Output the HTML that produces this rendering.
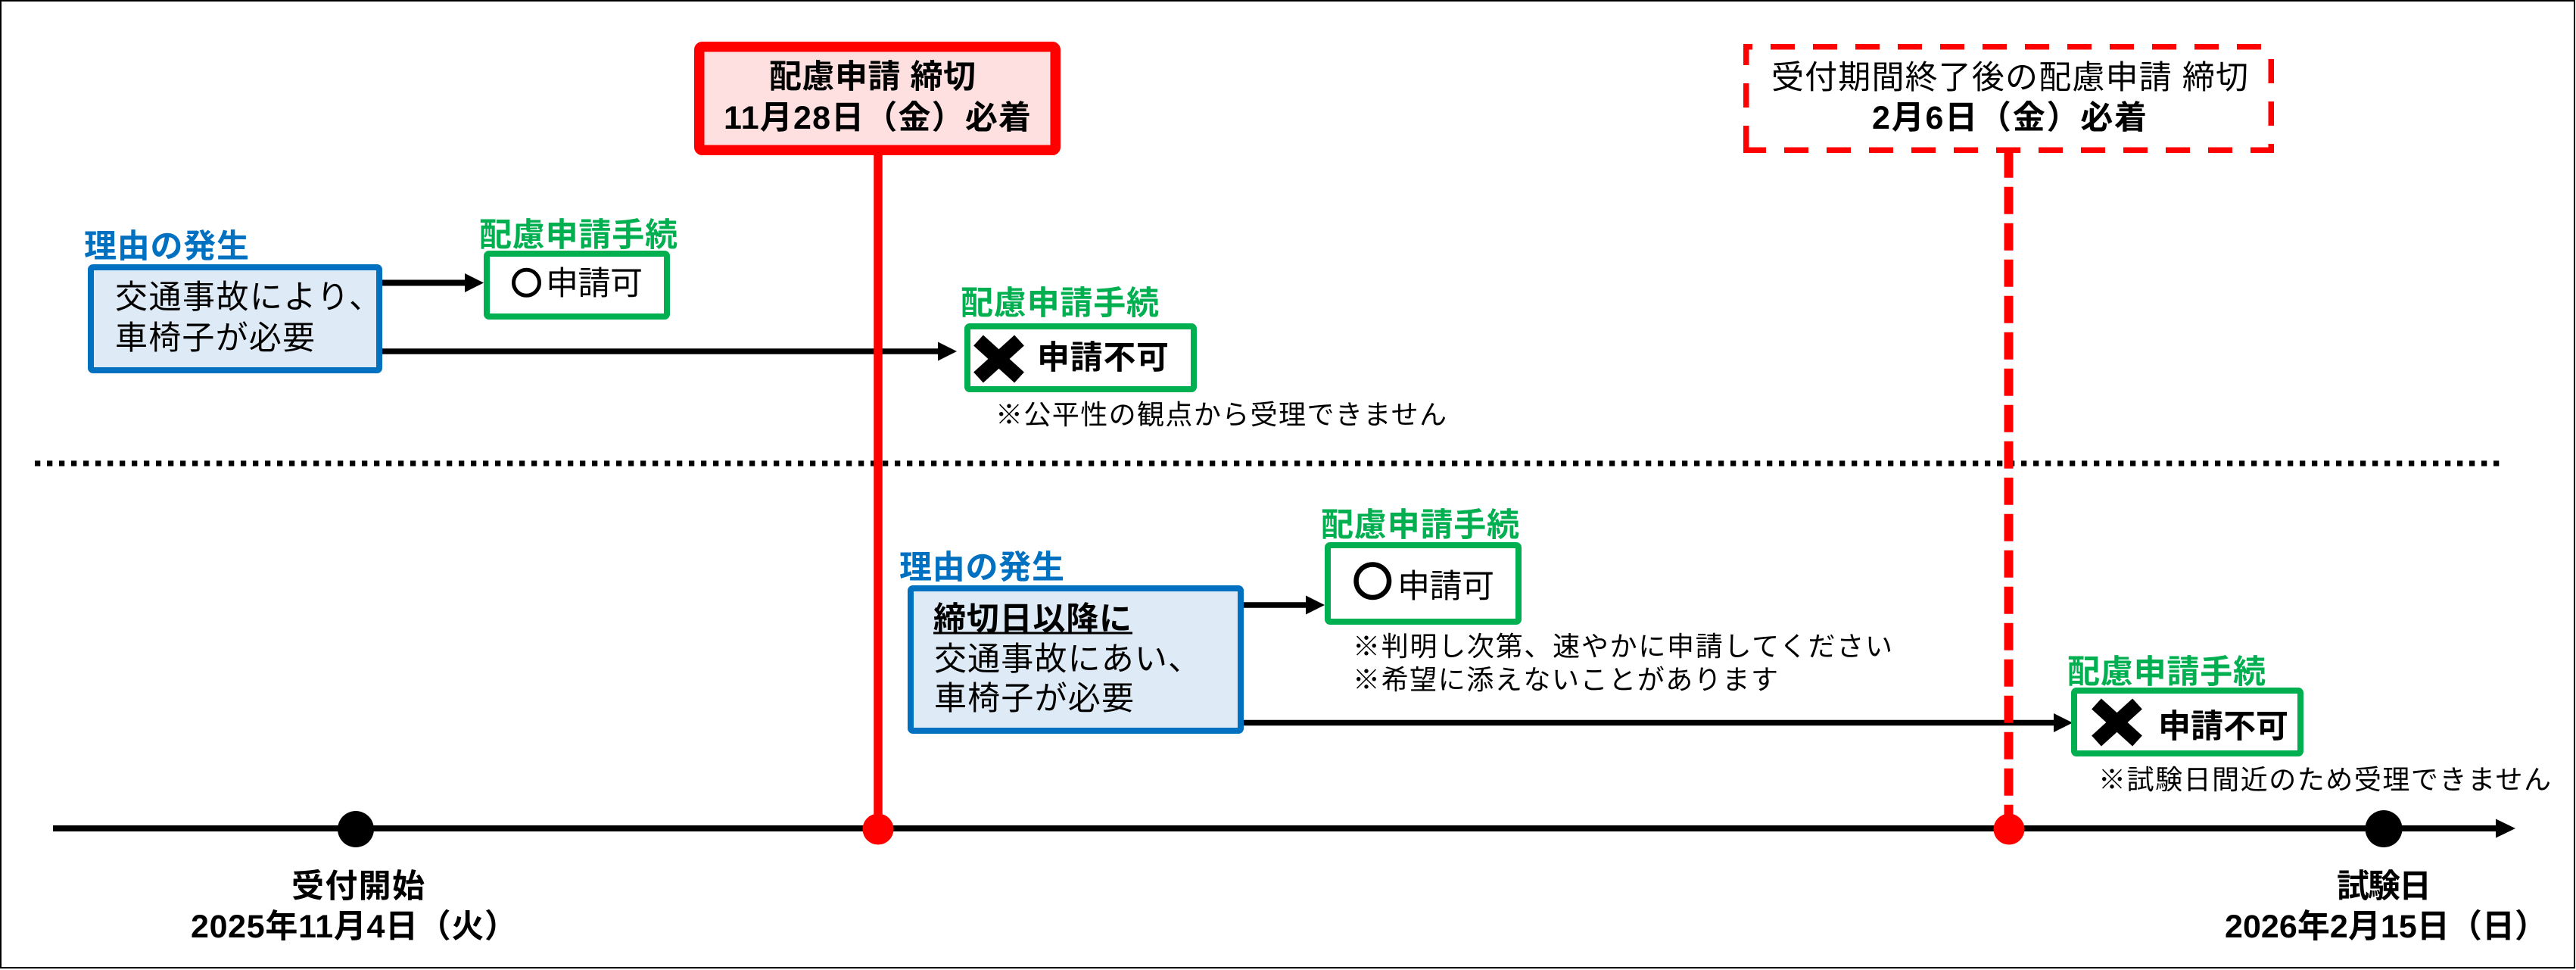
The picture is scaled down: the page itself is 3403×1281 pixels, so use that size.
<!DOCTYPE html>
<html>
<head>
<meta charset="utf-8">
<style>
html,body{margin:0;padding:0;background:#fff;}
svg{display:block;}
text{font-family:"Liberation Sans","Noto Sans CJK JP",sans-serif;}
</style>
</head>
<body>
<svg width="3403" height="1281" viewBox="0 0 3403 1281" xmlns="http://www.w3.org/2000/svg">
<rect x="0" y="0" width="3403" height="1281" fill="#ffffff"/>
<rect x="1" y="1" width="3400" height="1277" fill="none" stroke="#000" stroke-width="2"/>

<!-- dotted separator -->
<line x1="46" y1="612" x2="3302" y2="612" stroke="#000" stroke-width="7.3" stroke-dasharray="7.3 8.7"/>

<!-- timeline axis -->
<line x1="70" y1="1094" x2="3300" y2="1094" stroke="#000" stroke-width="8"/>
<polygon points="3297,1081.5 3323,1094 3297,1106.5" fill="#000"/>

<!-- arrows upper -->
<line x1="505" y1="373.5" x2="616" y2="373.5" stroke="#000" stroke-width="8"/>
<polygon points="614,361 639,373.5 614,386" fill="#000"/>
<line x1="505" y1="464" x2="1241" y2="464" stroke="#000" stroke-width="7.5"/>
<polygon points="1239,451.5 1264,464 1239,476.5" fill="#000"/>

<!-- arrows lower -->
<line x1="1643" y1="799" x2="1727" y2="799" stroke="#000" stroke-width="7.5"/>
<polygon points="1725,786.5 1750,799 1725,811.5" fill="#000"/>
<line x1="1643" y1="954.5" x2="2715" y2="954.5" stroke="#000" stroke-width="7.5"/>
<polygon points="2713,942 2738,954.5 2713,967" fill="#000"/>

<!-- red solid deadline line -->
<line x1="1160" y1="200" x2="1160" y2="1094" stroke="#FF0000" stroke-width="11.5"/>
<!-- red dashed line -->
<line x1="2653.5" y1="202" x2="2653.5" y2="1094" stroke="#FF0000" stroke-width="12" stroke-dasharray="36 12" stroke-dashoffset="3.3"/>

<!-- circles on timeline -->
<circle cx="470" cy="1095" r="24" fill="#000"/>
<circle cx="1160" cy="1095" r="20.5" fill="#FF0000"/>
<circle cx="2654" cy="1095" r="20.5" fill="#FF0000"/>
<circle cx="3149" cy="1094.5" r="24.5" fill="#000"/>

<!-- red deadline box -->
<rect x="923.75" y="61.75" width="470.5" height="136.5" rx="4" fill="#FEE0E0" stroke="#FF0000" stroke-width="13.5"/>
<text x="1016" y="116" font-size="43" font-weight="bold" fill="#000" textLength="273" lengthAdjust="spacing">配慮申請 締切</text>
<text x="956" y="170" font-size="43" font-weight="bold" fill="#000" textLength="406" lengthAdjust="spacing">11月28日（金）必着</text>

<!-- dashed deadline box -->
<rect x="2303" y="58" width="701" height="144" fill="#fff"/>
<line x1="2303" y1="61.75" x2="3004" y2="61.75" stroke="#FF0000" stroke-width="7.5" stroke-dasharray="32 24" stroke-dashoffset="20"/>
<line x1="2303" y1="198.25" x2="3004" y2="198.25" stroke="#FF0000" stroke-width="7.5" stroke-dasharray="32 24" stroke-dashoffset="2"/>
<line x1="2306.75" y1="58" x2="2306.75" y2="202" stroke="#FF0000" stroke-width="7.5" stroke-dasharray="32 24" stroke-dashoffset="4"/>
<line x1="3000.25" y1="58" x2="3000.25" y2="202" stroke="#FF0000" stroke-width="7.5" stroke-dasharray="32 24" stroke-dashoffset="36"/>
<text x="2340" y="117" font-size="43" fill="#000" textLength="630" lengthAdjust="spacing">受付期間終了後の配慮申請 締切</text>
<text x="2473" y="170" font-size="43" font-weight="bold" fill="#000" textLength="363" lengthAdjust="spacing">2月6日（金）必着</text>

<!-- upper: reason -->
<text x="111" y="340" font-size="43" font-weight="bold" fill="#0070C0" textLength="218" lengthAdjust="spacing">理由の発生</text>
<rect x="120" y="353" width="381" height="136" rx="3" fill="#DEEAF6" stroke="#0070C0" stroke-width="8"/>
<text x="152" y="407" font-size="43" fill="#000" textLength="352" lengthAdjust="spacing">交通事故により、</text>
<text x="152" y="461" font-size="43" fill="#000" textLength="264" lengthAdjust="spacing">車椅子が必要</text>

<!-- upper: green box 1 -->
<text x="633" y="325" font-size="43" font-weight="bold" fill="#00B050" textLength="262" lengthAdjust="spacing">配慮申請手続</text>
<rect x="643" y="335" width="238" height="83" rx="3" fill="#fff" stroke="#00B050" stroke-width="8"/>
<circle cx="695.5" cy="373.3" r="17" fill="none" stroke="#000" stroke-width="5"/>
<text x="721" y="389" font-size="43" fill="#000" textLength="128" lengthAdjust="spacing">申請可</text>

<!-- upper: green box 2 -->
<text x="1269" y="415" font-size="43" font-weight="bold" fill="#00B050" textLength="262" lengthAdjust="spacing">配慮申請手続</text>
<rect x="1278" y="431" width="299" height="83" rx="3" fill="#fff" stroke="#00B050" stroke-width="8"/>
<g stroke="#000" stroke-width="19" stroke-linecap="butt">
<line x1="1292.5" y1="449.5" x2="1346.5" y2="498.5"/>
<line x1="1346.5" y1="449.5" x2="1292.5" y2="498.5"/>
</g>
<text x="1370" y="487" font-size="43" font-weight="bold" fill="#000" textLength="174" lengthAdjust="spacing">申請不可</text>
<text x="1315" y="560" font-size="36" fill="#000" textLength="596" lengthAdjust="spacing">※公平性の観点から受理できません</text>

<!-- lower: reason -->
<text x="1188" y="764" font-size="43" font-weight="bold" fill="#0070C0" textLength="218" lengthAdjust="spacing">理由の発生</text>
<rect x="1203" y="777" width="436" height="188" rx="3" fill="#DEEAF6" stroke="#0070C0" stroke-width="8"/>
<text x="1233" y="832" font-size="43" font-weight="bold" fill="#000" textLength="262" lengthAdjust="spacing">締切日以降に</text>
<rect x="1233" y="834.5" width="263" height="3" fill="#000"/>
<text x="1234" y="885" font-size="43" fill="#000" textLength="352" lengthAdjust="spacing">交通事故にあい、</text>
<text x="1234" y="937" font-size="43" fill="#000" textLength="264" lengthAdjust="spacing">車椅子が必要</text>

<!-- lower: green box 3 -->
<text x="1745" y="708" font-size="43" font-weight="bold" fill="#00B050" textLength="262" lengthAdjust="spacing">配慮申請手続</text>
<rect x="1754" y="720" width="252" height="101" rx="3" fill="#fff" stroke="#00B050" stroke-width="8"/>
<circle cx="1813.3" cy="767.2" r="21.75" fill="none" stroke="#000" stroke-width="6.5"/>
<text x="1846" y="789" font-size="43" fill="#000" textLength="128" lengthAdjust="spacing">申請可</text>
<text x="1787" y="866" font-size="36" fill="#000" textLength="713" lengthAdjust="spacing">※判明し次第、速やかに申請してください</text>
<text x="1787" y="910" font-size="36" fill="#000" textLength="562" lengthAdjust="spacing">※希望に添えないことがあります</text>

<!-- lower: green box 4 -->
<text x="2731" y="902" font-size="43" font-weight="bold" fill="#00B050" textLength="262" lengthAdjust="spacing">配慮申請手続</text>
<rect x="2740" y="912" width="299" height="83" rx="3" fill="#fff" stroke="#00B050" stroke-width="8"/>
<g stroke="#000" stroke-width="19" stroke-linecap="butt">
<line x1="2769.5" y1="929.5" x2="2823.5" y2="978.5"/>
<line x1="2823.5" y1="929.5" x2="2769.5" y2="978.5"/>
</g>
<text x="2851" y="974" font-size="43" font-weight="bold" fill="#000" textLength="172" lengthAdjust="spacing">申請不可</text>
<text x="2772" y="1042" font-size="36" fill="#000" textLength="598" lengthAdjust="spacing">※試験日間近のため受理できません</text>

<!-- timeline labels -->
<text x="385" y="1185" font-size="43" font-weight="bold" fill="#000" textLength="176" lengthAdjust="spacing">受付開始</text>
<text x="252" y="1238" font-size="43" font-weight="bold" fill="#000" textLength="431" lengthAdjust="spacing">2025年11月4日（火）</text>
<text x="3087" y="1185" font-size="43" font-weight="bold" fill="#000" textLength="125" lengthAdjust="spacing">試験日</text>
<text x="2939" y="1238" font-size="43" font-weight="bold" fill="#000" textLength="426" lengthAdjust="spacing">2026年2月15日（日）</text>
</svg>
</body>
</html>
